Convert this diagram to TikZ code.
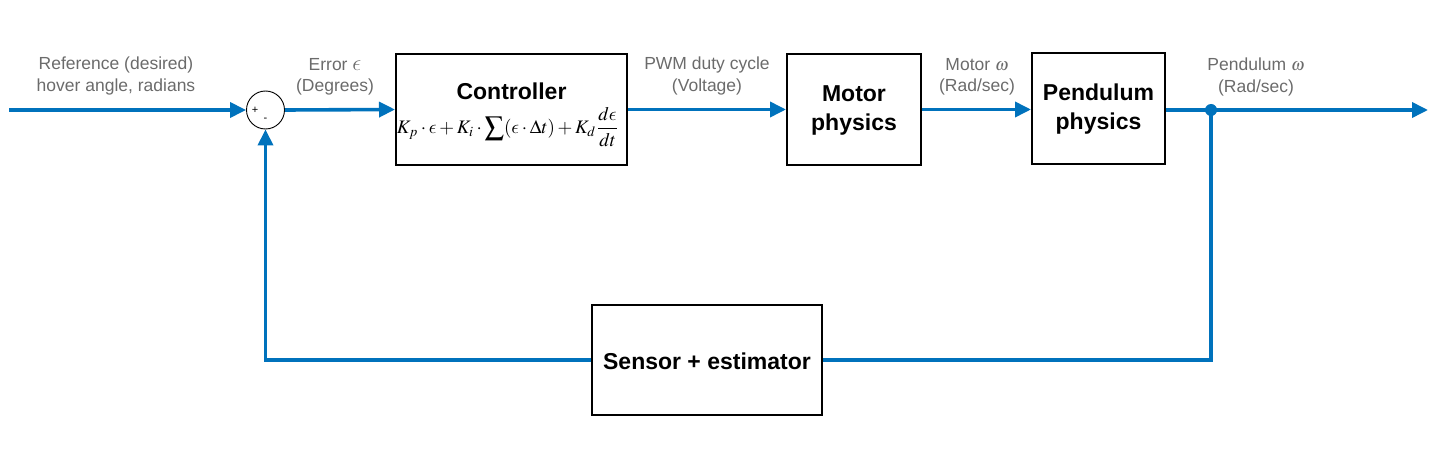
\documentclass[tikz,border=0pt]{standalone}
\usepackage{mathptmx}
\usepackage{fontspec}
\usepackage{graphicx}
\setmainfont{Liberation Sans}
\DeclareSymbolFont{cmletters}{OML}{lmm}{m}{it}
\DeclareMathSymbol{\lepsilon}{\mathord}{cmletters}{"0F}
\usetikzlibrary{arrows.meta,positioning}
\definecolor{flow}{HTML}{0072BC}
\definecolor{lbl}{HTML}{6B6B6B}
\begin{document}
\begin{tikzpicture}[x=1pt,y=-1pt,
  blk/.style={draw=black,line width=2pt,inner sep=0pt},
  btxt/.style={font=\fontsize{23}{29}\selectfont\bfseries,align=center,inner sep=0pt},
  gl/.style={text=lbl,font=\fontsize{17.5}{21.5}\selectfont,align=center,inner sep=0pt},
  wire/.style={draw=flow,line width=3.6pt},
  arr/.style={wire,-{Triangle[length=16pt,width=15pt]}}]
\useasboundingbox (0,0) rectangle (1454,457);
% blocks
\node[blk,minimum width=231pt,minimum height=111pt] (ctrl) at (511.5,109.5) {};
\node[blk,minimum width=134pt,minimum height=111pt] (motor) at (854,109.5) {};
\node[blk,minimum width=133pt,minimum height=111pt] (pend) at (1098.5,108.5) {};
\node[blk,minimum width=230pt,minimum height=110pt] (sens) at (707,360) {};
\node[draw=black,line width=0.9pt,circle,minimum size=38pt,inner sep=0pt] (sum) at (265.5,110) {};
% block texts
\node[btxt] (ctitle) at (511.5,91) {Controller};
\node[inner sep=0pt] (cform) at (508,127) {\resizebox{222pt}{!}{$K_p\cdot\lepsilon+K_i\cdot\displaystyle\sum(\lepsilon\cdot\Delta t)+K_d\frac{d\lepsilon}{dt}$}};
\node[btxt] (mtxt) at (854,110) {Motor\\physics};
\node[btxt] (ptxt) at (1098.5,109) {Pendulum\\physics};
\node[btxt] (stxt) at (707,361) {Sensor + estimator};
\node[inner sep=0pt,font=\fontsize{11}{11}\selectfont] (plus) at (255,110) {+};
\node[inner sep=0pt,font=\fontsize{11}{11}\selectfont] (minus) at (265.5,120) {-};
% labels
\node[gl] (lref) at (116,76) {Reference (desired)\\hover angle, radians};
\node[gl] (lerr) at (335,77) {Error \scalebox{1.3}{$\lepsilon$}\\(Degrees)};
\node[gl] (lpwm) at (707,76) {PWM duty cycle\\(Voltage)};
\node[gl] (lmot) at (977,77) {Motor $\omega$\\(Rad/sec)};
\node[gl] (lpen) at (1256,77) {Pendulum $\omega$\\(Rad/sec)};
% coordinates
\coordinate (start) at (9,110);
\coordinate (out) at (1428,110);
\coordinate (junc) at (1211,110);
\coordinate (jdown) at (1211,360);
\coordinate (fbl) at (265.5,360);
% connectors
\draw[arr] (start) -- (sum.west);
\draw[arr] (sum.east) -- (ctrl.west);
\draw[arr] (ctrl.east) -- (ctrl.east -| motor.west);
\draw[arr] (motor.east) -- (motor.east -| pend.west);
\draw[arr] (pend.east |- junc) -- (out);
\draw[wire] (junc) -- (jdown) -- (sens.east);
\draw[arr] (sens.west) -- (fbl) -- (sum.south);
\fill[flow] (junc) circle (6pt);
\end{tikzpicture}
\end{document}
